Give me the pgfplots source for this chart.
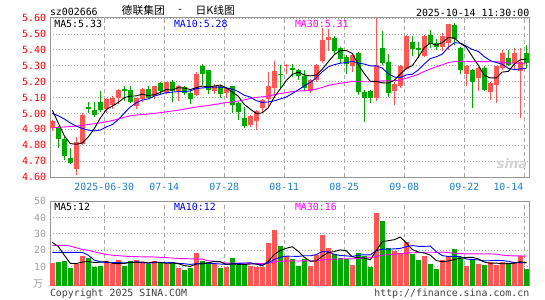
\documentclass[border=0pt]{standalone}
\usepackage{fontspec}
\usepackage{pgfplots}
\pgfplotsset{compat=1.18}
\usepackage{pgfplotstable}
\newfontfamily\mono{DejaVu Sans Mono}
\newfontfamily\cjk{Noto Sans CJK SC}
\newfontfamily\sinaf{DejaVu Sans}
\newcommand{\tf}{\mono\fontsize{9.9bp}{11bp}\selectfont}
\definecolor{upred}{RGB}{255,85,85}
\definecolor{dngreen}{RGB}{0,168,0}
\definecolor{pricered}{RGB}{255,0,0}
\definecolor{datablue}{RGB}{30,128,210}
\definecolor{framegray}{RGB}{150,150,150}
\definecolor{gridgray}{RGB}{170,170,170}
\definecolor{volgray}{RGB}{160,160,160}
\definecolor{mablue}{RGB}{0,0,255}
\definecolor{mamag}{RGB}{255,0,255}

\pgfplotstableread{
i o h l c v
0 4.91 4.96 4.89 4.95 12.4
4 4.65 4.85 4.61 4.82 11.4
5 4.81 5.00 4.80 4.99 16.7
9 5.03 5.10 5.00 5.09 13.4
10 5.05 5.11 5.03 5.10 11.4
11 5.10 5.155 5.06 5.145 14.1
14 5.045 5.10 5.03 5.095 14.1
15 5.09 5.16 5.07 5.155 12.0
17 5.11 5.175 5.09 5.17 13.4
19 5.13 5.20 5.12 5.195 11.4
21 5.14 5.18 5.08 5.17 9.0
24 5.115 5.258 5.11 5.247 18.5
27 5.14 5.185 5.12 5.17 11.4
29 5.128 5.16 5.10 5.16 10.0
33 4.925 4.99 4.915 4.985 10.6
34 4.95 5.02 4.898 5.015 10.0
35 5.035 5.09 5.01 5.086 10.0
36 5.09 5.26 5.04 5.17 24.6
37 5.16 5.33 5.096 5.264 32.3
39 5.295 5.31 5.245 5.302 16.5
43 5.14 5.215 5.13 5.21 10.4
44 5.21 5.31 5.20 5.305 17.1
45 5.33 5.54 5.32 5.46 29.3
46 5.46 5.53 5.39 5.48 21.6
50 5.30 5.37 5.26 5.365 11.0
54 5.10 5.60 5.08 5.305 42.9
57 5.14 5.20 5.05 5.185 19.7
58 5.17 5.305 5.16 5.295 18.1
59 5.28 5.49 5.27 5.485 25.2
62 5.36 5.49 5.355 5.485 16.7
65 5.42 5.505 5.39 5.485 14.1
66 5.445 5.565 5.40 5.56 16.5
69 5.245 5.305 5.17 5.295 10.4
71 5.225 5.29 5.14 5.285 11.6
73 5.135 5.20 5.085 5.19 12.6
74 5.18 5.30 5.065 5.295 11.0
75 5.285 5.40 5.27 5.38 12.6
77 5.315 5.41 5.275 5.38 12.6
78 5.265 5.41 4.97 5.325 16.5
}\redtab

\pgfplotstableread{
i o h l c v
1 4.91 4.92 4.78 4.84 13.0
2 4.84 4.85 4.71 4.73 13.4
3 4.72 4.78 4.68 4.69 9.4
6 5.04 5.07 5.00 5.03 15.1
7 5.02 5.07 4.98 4.99 10.0
8 5.07 5.14 5.01 5.02 10.4
12 5.155 5.175 5.08 5.14 10.6
13 5.145 5.175 5.065 5.07 13.4
16 5.155 5.175 5.09 5.10 11.4
18 5.19 5.20 5.12 5.139 12.0
20 5.195 5.21 5.07 5.139 13.0
22 5.166 5.17 5.118 5.128 8.0
23 5.128 5.15 5.06 5.093 9.4
25 5.295 5.31 5.18 5.247 13.7
26 5.274 5.274 5.12 5.149 12.6
28 5.17 5.18 5.10 5.124 9.0
30 5.17 5.175 5.00 5.055 15.5
31 5.065 5.07 4.96 5.006 11.0
32 4.97 5.04 4.91 4.92 11.0
38 5.25 5.306 5.16 5.244 22.6
40 5.286 5.31 5.23 5.275 14.7
41 5.275 5.28 5.21 5.237 10.4
42 5.237 5.27 5.143 5.16 14.7
47 5.475 5.485 5.37 5.39 17.5
48 5.41 5.42 5.32 5.34 15.5
49 5.355 5.365 5.25 5.31 14.7
51 5.38 5.385 5.115 5.135 18.5
52 5.135 5.145 4.945 5.10 16.7
53 5.14 5.145 5.065 5.10 10.0
55 5.41 5.52 5.305 5.32 38.0
56 5.325 5.375 5.105 5.13 21.6
60 5.45 5.485 5.36 5.405 17.5
61 5.41 5.45 5.35 5.40 14.1
63 5.495 5.525 5.41 5.435 11.6
64 5.445 5.465 5.40 5.42 8.6
67 5.555 5.57 5.43 5.47 20.8
68 5.41 5.415 5.245 5.27 16.1
70 5.275 5.28 5.035 5.195 14.7
72 5.285 5.295 5.14 5.15 11.0
76 5.35 5.40 5.295 5.305 12.0
79 5.38 5.43 5.285 5.32 8.6
}\greentab

\pgfplotstableread{
i m5 m10 m30 v5 v10 v30
0 5.02 5.00 4.910 24.8 18.7 23.0
1 4.94 4.985 4.912 22.3 18.7 23.0
2 4.86 4.965 4.915 17.0 18.7 23.0
3 4.81 4.94 4.917 12.0 18.7 22.5
4 4.806 4.92 4.920 11.92 18.7 21.5
5 4.814 4.905 4.925 12.78 18.7 20.5
6 4.852 4.895 4.930 13.2 17.0 20.0
7 4.904 4.89 4.935 12.52 14.0 19.0
8 4.97 4.895 4.940 12.72 13.0 18.2
9 5.024 4.915 4.948 13.12 12.52 17.4
10 5.046 4.93 4.955 12.06 12.42 17.0
11 5.069 4.961 4.965 11.86 12.53 16.7
12 5.099 5.002 4.975 11.98 12.25 16.4
13 5.109 5.040 4.985 12.58 12.65 16.2
14 5.11 5.067 4.990 12.72 12.92 16.1
15 5.121 5.084 4.993 12.84 12.45 16.0
16 5.112 5.091 4.996 12.3 12.08 16.0
17 5.118 5.109 5.000 12.86 12.42 15.9
18 5.131 5.12 5.005 12.58 12.58 15.7
19 5.15 5.13 5.010 12.04 12.38 15.5
20 5.147 5.134 5.015 12.24 12.54 15.2
21 5.162 5.137 5.020 11.76 12.03 15.0
22 5.159 5.138 5.027 10.68 11.77 14.9
23 5.15 5.141 5.033 10.16 11.37 14.8
24 5.162 5.156 5.040 11.58 11.81 14.7
25 5.172 5.16 5.045 11.72 11.98 14.6
26 5.166 5.164 5.050 12.44 12.1 13.6
27 5.172 5.166 5.056 13.12 11.9 13.3
28 5.179 5.165 5.062 13.04 11.6 12.8
29 5.161 5.161 5.069 11.34 11.46 12.12
30 5.135 5.153 5.072 11.7 11.71 12.22
31 5.108 5.137 5.078 11.38 11.91 12.16
32 5.056 5.114 5.085 11.3 12.21 12.08
33 5.027 5.103 5.094 11.62 12.33 12.12
34 4.999 5.080 5.101 11.62 11.48 12.07
35 5.004 5.069 5.104 10.52 11.11 11.85
36 5.036 5.072 5.109 13.24 12.31 12.16
37 5.103 5.079 5.118 17.5 14.4 12.91
38 5.154 5.091 5.125 19.9 15.76 13.31
39 5.207 5.103 5.131 21.2 16.41 13.42
40 5.245 5.125 5.137 22.14 16.33 13.53
41 5.26 5.148 5.141 19.3 16.27 13.40
42 5.242 5.173 5.142 15.78 16.64 13.54
43 5.236 5.195 5.146 13.34 16.62 13.44
44 5.241 5.224 5.153 13.46 17.33 13.54
45 5.278 5.262 5.163 16.38 19.26 14.12
46 5.325 5.293 5.176 18.62 18.96 14.46
47 5.369 5.306 5.183 19.18 17.48 14.59
48 5.395 5.316 5.190 20.2 16.77 14.71
49 5.396 5.319 5.194 19.72 16.59 14.82
50 5.377 5.328 5.202 16.06 16.22 14.75
51 5.308 5.317 5.200 15.44 17.03 15.07
52 5.25 5.310 5.199 15.28 17.23 15.36
53 5.202 5.299 5.199 14.18 17.19 15.38
54 5.201 5.299 5.201 19.82 19.77 16.19
55 5.192 5.285 5.205 25.22 20.64 17.0
56 5.191 5.250 5.205 25.84 20.64 17.3
57 5.208 5.229 5.205 26.44 20.86 17.58
58 5.247 5.225 5.210 28.06 21.12 17.88
59 5.283 5.242 5.221 24.52 22.17 18.39
60 5.30 5.246 5.233 20.42 22.82 18.46
61 5.354 5.273 5.246 18.92 22.38 18.56
62 5.414 5.311 5.264 18.32 22.38 18.75
63 5.442 5.345 5.279 17.02 22.54 18.78
64 5.429 5.356 5.293 13.7 19.11 18.74
65 5.445 5.373 5.306 13.02 16.72 18.87
66 5.477 5.416 5.319 13.5 16.21 18.6
67 5.474 5.444 5.326 14.32 16.32 18.22
68 5.441 5.442 5.327 15.22 16.12 18.0
69 5.416 5.423 5.328 15.58 14.64 17.8
70 5.358 5.402 5.325 15.7 14.36 17.8
71 5.303 5.39 5.326 14.72 14.11 17.84
72 5.239 5.357 5.326 12.76 13.54 17.72
73 5.223 5.332 5.325 12.06 13.64 17.79
74 5.223 5.320 5.325 12.18 13.88 17.59
75 5.26 5.309 5.322 11.76 13.73 17.03
76 5.264 5.284 5.316 11.84 13.28 16.71
77 5.31 5.275 5.316 12.16 12.46 16.55
78 5.337 5.28 5.315 12.94 12.5 16.58
79 5.342 5.283 5.316 12.46 12.32 16.38
}\matab

\pgfplotsset{
  kbase/.style={
    scale only axis, width=479bp, xmin=-0.383, xmax=79.45,
    axis line style={draw=framegray, line width=1bp},
    major tick length=0pt,
    xtick={8.667,18.667,28.667,38.667,48.667,58.667,68.667,78.667},
    xmajorgrids, ymajorgrids,
    major x grid style={draw=gridgray, line width=0.8bp, dash pattern=on 4bp off 3bp},
    major y grid style={draw=gridgray, line width=0.8bp, dash pattern=on 1bp off 2bp},
    /pgf/number format/assume math mode=true,
    ticklabel style={font=\tf},
    scaled y ticks=false,
  },
  nomark/.style={only marks, mark=*, mark size=0pt, mark options={draw=none, fill=none}},
  wick/.style={nomark, error bars/.cd, y dir=plus, y explicit, error mark=none,
    error bar style={draw=#1, line width=1bp}},
  body/.style={nomark, error bars/.cd, y dir=plus, y explicit, error mark=none,
    error bar style={draw=#1, line width=4.6bp}},
  vbar/.style={nomark, error bars/.cd, y dir=plus, y explicit, error mark=none,
    error bar style={draw=#1, line width=4.6bp}},
}

\begin{document}
\begin{tikzpicture}[every node/.style={inner sep=0pt, outer sep=0pt}]
\path[use as bounding box, fill=white] (0,0) rectangle (545bp,-300bp);

\begin{axis}[kbase, at={(50bp,-18bp)}, anchor=north west, height=159bp,
  ymin=4.6, ymax=5.6,
  ytick={4.6,4.7,4.8,4.9,5.0,5.1,5.2,5.3,5.4,5.5,5.6},
  yticklabel style={text=pricered, /pgf/number format/fixed, /pgf/number format/fixed zerofill, /pgf/number format/precision=2},
  yticklabel shift=4bp,
  xticklabels={2025-06-30,07-14,07-28,08-11,08-25,09-08,09-22,{}},
  xticklabel style={text=datablue},
  xticklabel shift=5.7bp,
]
\addplot[wick=upred] table[x=i, y=l, y error expr=\thisrow{h}-\thisrow{l}] {\redtab};
\addplot[body=upred] table[x=i, y=o, y error expr=\thisrow{c}-\thisrow{o}] {\redtab};
\addplot[wick=dngreen] table[x=i, y=l, y error expr=\thisrow{h}-\thisrow{l}] {\greentab};
\addplot[body=dngreen] table[x=i, y=c, y error expr=\thisrow{o}-\thisrow{c}] {\greentab};
\addplot[mamag, line width=0.9bp, mark=none] table[x=i, y=m30] {\matab};
\addplot[mablue, line width=0.9bp, mark=none] table[x=i, y=m10] {\matab};
\addplot[black, line width=0.9bp, mark=none] table[x=i, y=m5] {\matab};
\end{axis}

\begin{axis}[kbase, at={(50bp,-201bp)}, anchor=north west, height=84.7bp,
  ymin=-1.6, ymax=50,
  ytick={10,20,30,40,50},
  yticklabel style={text=volgray},
  yticklabel shift=4bp,
  xticklabels={},
]
\addplot[vbar=upred] table[x=i, y expr=-1.6, y error expr=\thisrow{v}+1.6] {\redtab};
\addplot[vbar=dngreen] table[x=i, y expr=-1.6, y error expr=\thisrow{v}+1.6] {\greentab};
\addplot[mamag, line width=0.9bp, mark=none] table[x=i, y=v30] {\matab};
\addplot[mablue, line width=0.9bp, mark=none] table[x=i, y=v10] {\matab};
\addplot[black, line width=0.9bp, mark=none] table[x=i, y=v5] {\matab};
\end{axis}

% titles
\node[anchor=base west, font=\tf] at (50bp,-15bp) {sz002666};
\node[anchor=west, font=\cjk\fontsize{10.8bp}{11bp}\selectfont] at (121.7bp,-10.5bp) {德联集团};
\node[anchor=center, font=\tf] at (180bp,-10.5bp) {-};
\node[anchor=east, font=\cjk\fontsize{10.8bp}{11bp}\selectfont] at (235bp,-10.5bp) {日K线图};
\node[anchor=base east, font=\tf] at (529.3bp,-16bp) {2025-10-14 11:30:00};
% legends
\node[anchor=west, font=\tf, text=black] at (54.3bp,-24bp) {MA5:5.33};
\node[anchor=west, font=\tf, text=mablue] at (174bp,-24bp) {MA10:5.28};
\node[anchor=west, font=\tf, text=mamag] at (295bp,-24bp) {MA30:5.31};
\node[anchor=west, font=\tf, text=black] at (54.3bp,-207bp) {MA5:12};
\node[anchor=west, font=\tf, text=mablue] at (174bp,-207bp) {MA10:12};
\node[anchor=west, font=\tf, text=mamag] at (295bp,-207bp) {MA30:16};
% last date label
\node[anchor=north east, font=\tf, text=datablue] at (523.3bp,-182.7bp) {10-14};
% volume unit
\node[anchor=center, font=\cjk\fontsize{10bp}{10bp}\selectfont, text=volgray] at (38bp,-284bp) {万};
% watermark
\node[anchor=center, font=\sinaf\bfseries\itshape\fontsize{13bp}{13bp}\selectfont, text=gray!35] at (512bp,-164bp) {sina};
% footer
\node[anchor=base west, font=\tf, text=black!75] at (50bp,-296.3bp) {Copyright 2025 SINA.COM};
\node[anchor=base east, font=\tf, text=black!75] at (529.3bp,-296.3bp) {http://finance.sina.com.cn};
\end{tikzpicture}
\end{document}
